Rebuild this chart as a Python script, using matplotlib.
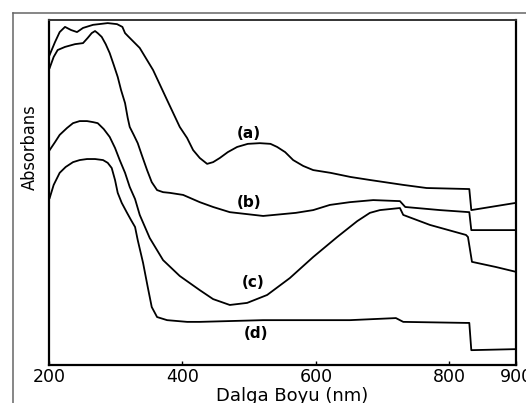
import matplotlib
matplotlib.use('Agg')
from matplotlib import pyplot as plt
from matplotlib.lines import Line2D

# wavelengths (nm) and absorbance (arb. units)
wl_a = [201, 209, 216, 224, 233, 242, 251, 266, 288, 302, 310, 314, 318, 336, 356, 377, 396,
        407, 416, 426, 437, 446, 456, 468, 482, 498, 516, 532, 542, 554, 566, 581, 596, 622,
        652, 682, 731, 766, 830, 833, 900]
abs_a = [0.899, 0.936, 0.965, 0.980, 0.971, 0.965, 0.977, 0.986, 0.991, 0.988, 0.980, 0.962,
         0.954, 0.919, 0.855, 0.768, 0.690, 0.658, 0.623, 0.600, 0.583, 0.588, 0.600, 0.617,
         0.632, 0.641, 0.643, 0.641, 0.632, 0.617, 0.594, 0.577, 0.565, 0.557, 0.545, 0.536,
         0.522, 0.513, 0.510, 0.449, 0.470]

wl_b = [201, 207, 213, 224, 239, 251, 258, 264, 269, 273, 279, 285, 291, 297, 303, 308, 314,
        318, 321, 327, 333, 339, 347, 354, 362, 371, 381, 401, 426, 446, 471, 521, 570, 596,
        621, 651, 686, 726, 734, 786, 830, 833, 900]
abs_b = [0.861, 0.893, 0.913, 0.922, 0.930, 0.933, 0.948, 0.962, 0.968, 0.962, 0.951, 0.930,
         0.904, 0.870, 0.835, 0.797, 0.759, 0.716, 0.690, 0.667, 0.643, 0.609, 0.565, 0.530,
         0.507, 0.501, 0.499, 0.493, 0.472, 0.458, 0.443, 0.432, 0.441, 0.449, 0.464, 0.472,
         0.478, 0.475, 0.458, 0.449, 0.443, 0.391, 0.391]

wl_c = [201, 209, 216, 227, 236, 246, 257, 266, 273, 282, 291, 299, 306, 314, 321, 329, 336,
        351, 371, 396, 426, 446, 471, 497, 527, 561, 596, 632, 662, 681, 696, 726, 731, 771,
        825, 828, 834, 870, 900]
abs_c = [0.623, 0.646, 0.667, 0.687, 0.701, 0.707, 0.707, 0.704, 0.701, 0.684, 0.661, 0.629,
         0.594, 0.557, 0.516, 0.481, 0.435, 0.368, 0.304, 0.258, 0.217, 0.191, 0.174, 0.180,
         0.203, 0.252, 0.313, 0.371, 0.417, 0.441, 0.449, 0.455, 0.435, 0.406, 0.377, 0.371,
         0.299, 0.284, 0.270]

wl_d = [201, 207, 216, 225, 236, 246, 257, 269, 281, 288, 294, 299, 303, 309, 317, 323, 329,
        333, 341, 348, 354, 362, 377, 407, 426, 521, 651, 720, 731, 825, 830, 833, 900]
abs_d = [0.484, 0.522, 0.557, 0.574, 0.588, 0.594, 0.597, 0.597, 0.594, 0.586, 0.571, 0.536,
         0.499, 0.470, 0.441, 0.420, 0.400, 0.362, 0.296, 0.226, 0.168, 0.139, 0.130, 0.125,
         0.125, 0.130, 0.130, 0.136, 0.125, 0.122, 0.122, 0.043, 0.046]

curve_names = ['(a)', '(b)', '(c)', '(d)']
label_wl = [500, 500, 506, 510]
label_abs = [0.672, 0.472, 0.238, 0.090]

xticks = [200, 400, 600, 800, 900]

fig = plt.figure(figsize=(5.26, 4.03), dpi=100)
ax = fig.add_axes([49/526, 38/403, 467/526, 345/403])

for wl, ab in [(wl_a, abs_a), (wl_b, abs_b), (wl_c, abs_c), (wl_d, abs_d)]:
    ax.plot(wl, ab, color='black', lw=1.3, solid_joinstyle='round')

for name, x, y in zip(curve_names, label_wl, label_abs):
    ax.text(x, y, name, ha='center', va='center', fontsize=11, fontweight='bold',
            family='DejaVu Sans')

ax.set_xlim(200, 900)
ax.set_ylim(0, 1)
ax.set_xticks(xticks)
ax.set_xticklabels([str(t) for t in xticks], fontsize=12.5)
ax.set_yticks([])
ax.tick_params(axis='x', direction='in', length=3, width=1, pad=2.5)

for s in ['left', 'bottom', 'right']:
    ax.spines[s].set_linewidth(1.6)
    ax.spines[s].set_color('black')
ax.spines['top'].set_linewidth(1.4)
ax.spines['top'].set_color('#333333')

fig.text(292/526, 1 - 401/403, 'Dalga Boyu (nm)', ha='center', va='baseline', fontsize=13)
fig.text(30/526, 1 - 147/403, 'Absorbans', ha='center', va='center', rotation=90,
         fontsize=13, family='DejaVu Sans', fontstretch='condensed')

# outer frame of the original figure
fig.add_artist(Line2D([13/526, 13/526], [0, 1 - 13/403], color='#666666', lw=1.1))
fig.add_artist(Line2D([13/526, 1], [1 - 13/403, 1 - 13/403], color='#666666', lw=1.1))

fig.savefig('out.png', dpi=100)
